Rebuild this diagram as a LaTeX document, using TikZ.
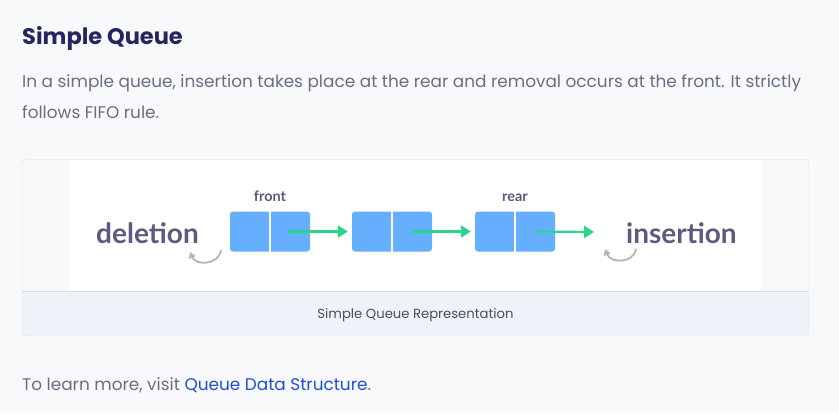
\documentclass[tikz,border=0pt]{standalone}
\usepackage{fontspec}
\setmainfont{Poppins}
\newfontfamily\latofont{Lato}
\usetikzlibrary{arrows.meta,calc}
\definecolor{pagebg}{HTML}{F8F9FB}
\definecolor{cardline}{HTML}{D9DDE4}
\definecolor{capband}{HTML}{EEF3FA}
\definecolor{titlec}{HTML}{25265E}
\definecolor{bodyc}{HTML}{6B6D82}
\definecolor{capc}{HTML}{4B4D5E}
\definecolor{linkc}{HTML}{1F4FD8}
\definecolor{boxc}{HTML}{66AFFF}
\definecolor{greenc}{HTML}{2BD48C}
\definecolor{curvec}{HTML}{B4B4B8}
\definecolor{wordc}{HTML}{5C5A80}
\tikzset{
  qbox/.style={fill=boxc, rounded corners=3pt, minimum width=80pt, minimum height=40pt, inner sep=0pt},
  garrow/.style={draw=greenc, line width=2.2pt, -{Triangle[length=10pt,width=12pt]}},
  curv/.style={draw=curvec, line width=1.8pt, -{Triangle[length=6pt,width=7pt]}},
  bigword/.style={font=\latofont\bfseries\fontsize{28}{30}\selectfont, text=wordc, inner sep=0pt, anchor=base west},
  smallword/.style={font=\latofont\bfseries\fontsize{14.5}{16}\selectfont, text=wordc, inner sep=0pt, anchor=base},
  bodytext/.style={font=\fontsize{16.9}{20}\selectfont, text=bodyc, inner sep=0pt, anchor=base west},
}
\begin{document}
\begin{tikzpicture}[x=1pt,y=-1pt]
\useasboundingbox (0,0) rectangle (839,413);
\fill[pagebg] (0,0) rectangle (839,413);
% card
\path[fill=capband, rounded corners=3pt] (22.5,291.5) rectangle (808.5,335);
\fill[white] (70,160.3) rectangle (761,291);
\draw[cardline, rounded corners=3pt] (22,159.5) rectangle (809,335.5);
\draw[cardline] (22,291.5) -- (809,291.5);
% texts
\node[font=\bfseries\fontsize{22.5}{26}\selectfont, text=titlec, inner sep=0pt, anchor=base west] (title) at (22,44) {Simple Queue};
\node[bodytext] (l1) at (22,87) {In a simple queue, insertion takes place at the rear and removal occurs at the front. It strictly};
\node[bodytext] (l2) at (22,118) {follows FIFO rule.};
\node[font=\fontsize{13.2}{15}\selectfont, text=capc, inner sep=0pt, anchor=base] (cap) at (415.5,318) {Simple Queue Representation};
\node[bodytext] (more) at (22,390) {To learn more, visit \textcolor{linkc}{Queue Data Structure}.};
% diagram
\node[qbox] (b1) at (270,231.5) {};
\node[qbox] (b2) at (392,231.5) {};
\node[qbox] (b3) at (515,231.5) {};
\foreach \b in {b1,b2,b3}{\draw[white, line width=1.2pt] (\b.north) -- (\b.south);}
\node[smallword] (front) at (270,201) {front};
\node[smallword] (rear) at (515,201) {rear};
\node[bigword] (del) at (96,243) {deletion};
\node[bigword] (ins) at (626,243) {insertion};
\coordinate (endins) at (594,232);
\draw[garrow] ($(b1.center)+(18,0)$) -- ($(b2.west)+(-4,0)$);
\draw[garrow] ($(b2.center)+(20,0)$) -- ($(b3.west)+(-4,0)$);
\draw[garrow] ($(b3.center)+(20,0)$) -- (endins);
\coordinate (d1) at (221,250);
\coordinate (d2) at (190,252);
\draw[curv] (d1) .. controls (219,265) and (196,266) .. (d2);
\coordinate (i1) at (636,249);
\coordinate (i2) at (605,249);
\draw[curv] (i1) .. controls (634,263) and (611,264) .. (i2);
\end{tikzpicture}
\end{document}
